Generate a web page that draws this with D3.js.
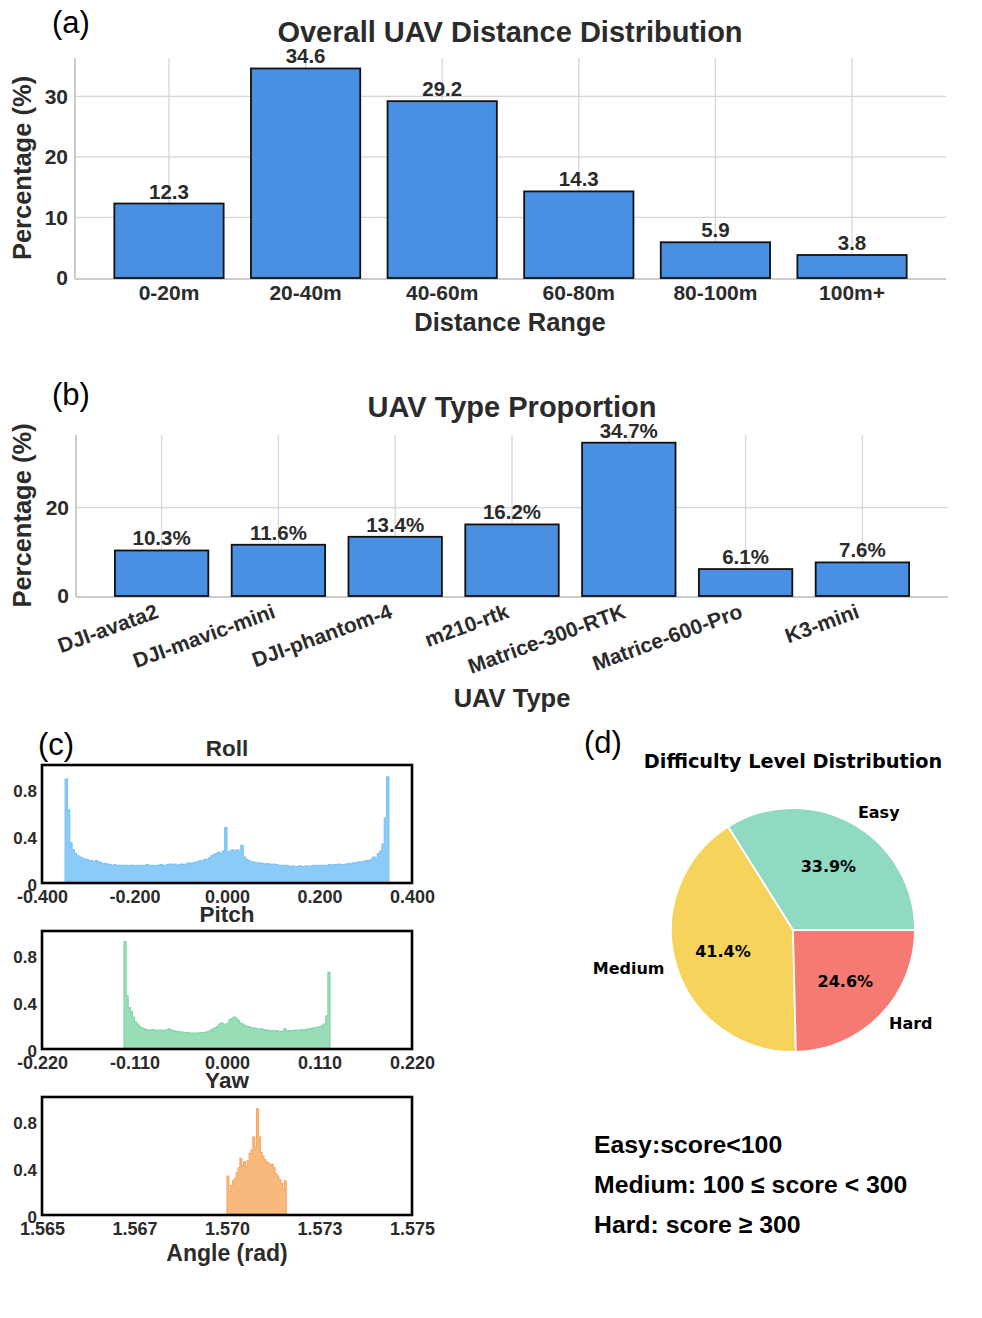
<!DOCTYPE html>
<html>
<head>
<meta charset="utf-8">
<script src="https://cdn.jsdelivr.net/npm/d3@7"></script>
<style>
  body { margin: 0; background: #fff; }
  svg text { font-family: "Liberation Sans", Arial, Helvetica, sans-serif; }
  svg text.dv { font-family: "DejaVu Sans", sans-serif; }
</style>
</head>
<body>
<svg id="fig" width="982" height="1318"></svg>
<script>
// ---- data ----
const distCategories = ['0-20m', '20-40m', '40-60m', '60-80m', '80-100m', '100m+'];
const distValues = [12.3, 34.6, 29.2, 14.3, 5.9, 3.8];
const distTicks = [0, 10, 20, 30];

const typeCategories = ['DJI-avata2', 'DJI-mavic-mini', 'DJI-phantom-4', 'm210-rtk',
  'Matrice-300-RTK', 'Matrice-600-Pro', 'K3-mini'];
const typeValues = [10.3, 11.6, 13.4, 16.2, 34.7, 6.1, 7.6];
const typeTicks = [0, 20];

// roll histogram: bins of 0.005 rad starting at -0.35
const rollStart = -0.35, rollStep = 0.005;
const rollDensity = [
  0.88, 0.62, 0.34, 0.28, 0.25, 0.23, 0.22, 0.21, 0.20, 0.20,
  0.19, 0.19, 0.18, 0.19, 0.18, 0.17, 0.16, 0.165, 0.16, 0.155,
  0.15, 0.155, 0.15, 0.15, 0.145, 0.15, 0.15, 0.145, 0.15, 0.15,
  0.145, 0.15, 0.15, 0.145, 0.15, 0.155, 0.15, 0.15, 0.145, 0.15,
  0.15, 0.155, 0.15, 0.15, 0.155, 0.16, 0.155, 0.16, 0.15, 0.155,
  0.16, 0.155, 0.16, 0.17, 0.165, 0.17, 0.175, 0.18, 0.19, 0.185,
  0.20, 0.20, 0.21, 0.23, 0.24, 0.25, 0.26, 0.25, 0.27, 0.47,
  0.26, 0.27, 0.28, 0.27, 0.28, 0.27, 0.32, 0.22, 0.20, 0.19,
  0.18, 0.18, 0.17, 0.17, 0.17, 0.165, 0.16, 0.165, 0.16, 0.155,
  0.16, 0.155, 0.15, 0.15, 0.145, 0.15, 0.145, 0.14, 0.145, 0.14,
  0.14, 0.145, 0.14, 0.14, 0.145, 0.14, 0.145, 0.15, 0.145, 0.15,
  0.15, 0.145, 0.15, 0.15, 0.155, 0.15, 0.155, 0.155, 0.16, 0.155,
  0.155, 0.16, 0.165, 0.16, 0.17, 0.17, 0.175, 0.18, 0.18, 0.185,
  0.19, 0.19, 0.20, 0.22, 0.21, 0.25, 0.27, 0.33, 0.55, 0.90
];
const rollTicks = [-0.4, -0.2, 0, 0.2, 0.4];
const rollTickLabels = ['-0.400', '-0.200', '0.000', '0.200', '0.400'];

// pitch histogram: bins of 0.0025 rad starting at -0.1225
const pitchStart = -0.1225, pitchStep = 0.0025;
const pitchDensity = [
  0.91, 0.45, 0.35, 0.32, 0.27, 0.23, 0.21, 0.19, 0.18, 0.17,
  0.165, 0.16, 0.16, 0.165, 0.16, 0.155, 0.16, 0.16, 0.155, 0.16,
  0.16, 0.17, 0.16, 0.155, 0.15, 0.15, 0.145, 0.145, 0.14, 0.14,
  0.14, 0.135, 0.135, 0.135, 0.135, 0.135, 0.14, 0.14, 0.14, 0.145,
  0.15, 0.16, 0.17, 0.18, 0.19, 0.21, 0.22, 0.21, 0.20, 0.22,
  0.25, 0.26, 0.27, 0.26, 0.24, 0.22, 0.21, 0.20, 0.19, 0.19,
  0.18, 0.18, 0.175, 0.17, 0.17, 0.17, 0.165, 0.16, 0.16, 0.155,
  0.155, 0.15, 0.155, 0.15, 0.15, 0.15, 0.17, 0.155, 0.155, 0.155,
  0.155, 0.16, 0.16, 0.16, 0.165, 0.16, 0.165, 0.17, 0.17, 0.175,
  0.18, 0.18, 0.185, 0.19, 0.20, 0.21, 0.28, 0.65
];
const pitchTicks = [-0.22, -0.11, 0, 0.11, 0.22];
const pitchTickLabels = ['-0.220', '-0.110', '0.000', '0.110', '0.220'];

// yaw histogram: bins of 0.00005 rad starting at 1.5700
const yawStart = 1.5700, yawStep = 0.00005;
const yawDensity = [
  0.33, 0.20, 0.25, 0.29, 0.31, 0.36, 0.40, 0.48, 0.42, 0.45,
  0.41, 0.46, 0.52, 0.55, 0.66, 0.58, 0.90, 0.66, 0.53, 0.50,
  0.47, 0.45, 0.44, 0.42, 0.43, 0.40, 0.35, 0.33, 0.30, 0.27,
  0.22, 0.29
];
const yawTicks = [1.565, 1.5675, 1.570, 1.5725, 1.575];
const yawTickLabels = ['1.565', '1.567', '1.570', '1.573', '1.575'];

const densityTicks = [0, 0.4, 0.8];
const densityTickLabels = ['0', '0.4', '0.8'];

const difficultyLabels = ['Easy', 'Medium', 'Hard'];
const difficultyValues = [33.9, 41.4, 24.6];
const difficultyColors = ['#90d9c3', '#f6d35a', '#f57a73'];

const scoreRules = ['Easy:score<100', 'Medium: 100 \u2264 score < 300', 'Hard: score \u2265 300'];

// ---- drawing ----
const svg = d3.select('#fig');
const INK = '#2b2b2b';

function panelLetter(txt, x, y) {
  svg.append('text').attr('x', x).attr('y', y)
    .style('font-size', '31px').style('fill', '#000').text(txt);
}

function barPanel(o) {
  const x = d3.scaleBand().domain(o.cats).range([o.left, o.right])
    .paddingInner(0.2).paddingOuter(o.outer);
  const y = d3.scaleLinear().domain([0, o.ymax]).range([o.bottom, o.top]);
  const g = svg.append('g');

  // grid
  g.selectAll('.hg').data(o.ticks.filter(t => t > 0)).enter().append('line')
    .attr('x1', o.left).attr('x2', o.right)
    .attr('y1', d => y(d)).attr('y2', d => y(d))
    .attr('stroke', '#d6d6d6').attr('stroke-width', 1.3);
  g.selectAll('.vg').data(o.cats).enter().append('line')
    .attr('x1', d => x(d) + x.bandwidth() / 2).attr('x2', d => x(d) + x.bandwidth() / 2)
    .attr('y1', o.top).attr('y2', o.bottom)
    .attr('stroke', '#d6d6d6').attr('stroke-width', 1.3);

  // spines
  g.append('line').attr('x1', o.left).attr('x2', o.left).attr('y1', o.top).attr('y2', o.bottom + 1)
    .attr('stroke', '#cccccc').attr('stroke-width', 2);
  g.append('line').attr('x1', o.left).attr('x2', o.right).attr('y1', o.bottom + 1).attr('y2', o.bottom + 1)
    .attr('stroke', '#cccccc').attr('stroke-width', 2);

  // bars
  g.selectAll('.bar').data(o.vals).enter().append('rect')
    .attr('x', (d, i) => x(o.cats[i]))
    .attr('y', d => y(d))
    .attr('width', x.bandwidth())
    .attr('height', d => y(0) - y(d))
    .attr('fill', '#4a90e2')
    .attr('stroke', '#111').attr('stroke-width', 1.8);

  // value labels
  g.selectAll('.vl').data(o.vals).enter().append('text')
    .attr('x', (d, i) => x(o.cats[i]) + x.bandwidth() / 2)
    .attr('y', d => y(d) - 5)
    .attr('text-anchor', 'middle')
    .style('font-size', '20.5px').style('font-weight', 'bold').style('fill', INK)
    .text(d => o.fmt(d));

  // y axis
  const ya = g.append('g').attr('transform', `translate(${o.left},0)`)
    .call(d3.axisLeft(y).tickValues(o.ticks).tickSize(0).tickPadding(7).tickFormat(d3.format('d')));
  ya.select('.domain').remove();
  ya.selectAll('text').style('font-size', '21px').style('font-weight', 'bold').style('fill', INK);

  // x axis
  const xa = g.append('g').attr('transform', `translate(0,${o.bottom})`)
    .call(d3.axisBottom(x).tickSize(0).tickPadding(o.rotate ? 0 : 7));
  xa.select('.domain').remove();
  const xt = xa.selectAll('text').style('font-size', o.tickSize).style('font-weight', 'bold').style('fill', INK);
  if (o.rotate) {
    xt.attr('text-anchor', 'end').attr('dy', '0.72em')
      .attr('transform', 'translate(-7,7) rotate(-20)');
  }

  // titles
  svg.append('text').attr('x', o.titleX).attr('y', o.titleY).attr('text-anchor', 'middle')
    .style('font-size', '29px').style('font-weight', 'bold').style('fill', INK).text(o.title);
  svg.append('text').attr('x', o.titleX).attr('y', o.xlabY).attr('text-anchor', 'middle')
    .style('font-size', '25.5px').style('font-weight', 'bold').style('fill', INK).text(o.xlabel);
  svg.append('text').attr('transform', `translate(31,${(o.top + o.bottom) / 2}) rotate(-90)`)
    .attr('text-anchor', 'middle')
    .style('font-size', '25.5px').style('font-weight', 'bold').style('fill', INK).text('Percentage (%)');
}

panelLetter('(a)', 52, 33);
barPanel({
  cats: distCategories, vals: distValues, ticks: distTicks,
  left: 75, right: 946, top: 58, bottom: 278, ymax: 36.33, outer: 0.288,
  fmt: d => d.toFixed(1), tickSize: '21px', rotate: false,
  title: 'Overall UAV Distance Distribution', titleX: 510, titleY: 42,
  xlabel: 'Distance Range', xlabY: 331
});

panelLetter('(b)', 52, 405);
barPanel({
  cats: typeCategories, vals: typeValues, ticks: typeTicks,
  left: 76, right: 948, top: 435, bottom: 596, ymax: 36.44, outer: 0.333,
  fmt: d => d.toFixed(1) + '%', tickSize: '21px', rotate: true,
  title: 'UAV Type Proportion', titleX: 512, titleY: 417,
  xlabel: 'UAV Type', xlabY: 707
});

// ---- panel (c): attitude histograms ----
panelLetter('(c)', 38, 755);

function histPanel(o) {
  const x = d3.scaleLinear().domain(o.domain).range([42, 412]);
  const y = d3.scaleLinear().domain([0, 1]).range([o.top + 118, o.top]);
  const g = svg.append('g');
  const pts = o.vals.map((v, i) => [o.start + i * o.step, v]);
  pts.push([o.start + o.vals.length * o.step, o.vals[o.vals.length - 1]]);

  g.append('path').datum(pts)
    .attr('d', d3.area().curve(d3.curveStepAfter).x(d => x(d[0])).y0(y(0)).y1(d => y(d[1])))
    .attr('fill', o.fill);
  const outline = [[pts[0][0], 0]].concat(pts, [[pts[pts.length - 1][0], 0]]);
  g.append('path').datum(outline)
    .attr('d', d3.line().curve(d3.curveStepAfter).x(d => x(d[0])).y(d => y(d[1])))
    .attr('fill', 'none').attr('stroke', o.stroke).attr('stroke-width', 1.2);

  g.append('rect').attr('x', 42).attr('y', o.top).attr('width', 370).attr('height', 118)
    .attr('fill', 'none').attr('stroke', '#000').attr('stroke-width', 2.6);

  const ya = g.append('g').attr('transform', 'translate(42,0)')
    .call(d3.axisLeft(y).tickValues(densityTicks).tickSize(0).tickPadding(5)
      .tickFormat((d, i) => densityTickLabels[i]));
  ya.select('.domain').remove();
  ya.selectAll('text').attr('dy', '0.45em')
    .style('font-size', '17px').style('font-weight', 'bold').style('fill', INK);

  const xa = g.append('g').attr('transform', `translate(0,${o.top + 118})`)
    .call(d3.axisBottom(x).tickValues(o.ticks).tickSize(0).tickPadding(7)
      .tickFormat((d, i) => o.labels[i]));
  xa.select('.domain').remove();
  xa.selectAll('text').style('font-size', '18px').style('font-weight', 'bold').style('fill', INK);

  svg.append('text').attr('x', 227).attr('y', o.top - 9).attr('text-anchor', 'middle')
    .style('font-size', '22.5px').style('font-weight', 'bold').style('fill', INK).text(o.title);
}

histPanel({ title: 'Roll', top: 765, domain: [-0.4, 0.4], ticks: rollTicks, labels: rollTickLabels,
  start: rollStart, step: rollStep, vals: rollDensity, fill: '#8bcbf8', stroke: '#7dc3f6' });
histPanel({ title: 'Pitch', top: 931, domain: [-0.22, 0.22], ticks: pitchTicks, labels: pitchTickLabels,
  start: pitchStart, step: pitchStep, vals: pitchDensity, fill: '#98ddb6', stroke: '#84d6a8' });
histPanel({ title: 'Yaw', top: 1097, domain: [1.565, 1.575], ticks: yawTicks, labels: yawTickLabels,
  start: yawStart, step: yawStep, vals: yawDensity, fill: '#f7b97c', stroke: '#f5aa66' });

svg.append('text').attr('x', 227).attr('y', 1261).attr('text-anchor', 'middle')
  .style('font-size', '23px').style('font-weight', 'bold').style('fill', INK).text('Angle (rad)');

// ---- panel (d): difficulty pie ----
panelLetter('(d)', 584, 753);
svg.append('text').attr('class', 'dv').attr('x', 793).attr('y', 768).attr('text-anchor', 'middle')
  .style('font-size', '19.3px').style('font-weight', 'bold').style('fill', '#000')
  .text('Difficulty Level Distribution');

const cx = 793, cy = 930, R = 122;
const pie = d3.pie().sort(null).value(d => d)
  .startAngle(Math.PI / 2).endAngle(Math.PI / 2 - 2 * Math.PI);
const arcs = pie(difficultyValues);
const arc = d3.arc().innerRadius(0).outerRadius(R);
const pg = svg.append('g').attr('transform', `translate(${cx},${cy})`);
pg.selectAll('.slice').data(arcs).enter().append('path')
  .attr('d', arc)
  .attr('fill', (d, i) => difficultyColors[i])
  .attr('stroke', '#fff').attr('stroke-width', 1.8);

const mid = d => (d.startAngle + d.endAngle) / 2;
pg.selectAll('.pct').data(arcs).enter().append('text').attr('class', 'dv')
  .attr('x', d => Math.sin(mid(d)) * R * 0.6)
  .attr('y', d => -Math.cos(mid(d)) * R * 0.6)
  .attr('dy', '0.35em').attr('text-anchor', 'middle')
  .style('font-size', '16px').style('font-weight', 'bold').style('fill', '#000')
  .text(d => d.value.toFixed(1) + '%');
pg.selectAll('.lab').data(arcs).enter().append('text').attr('class', 'dv')
  .attr('x', d => Math.sin(mid(d)) * R * 1.1)
  .attr('y', d => -Math.cos(mid(d)) * R * 1.1)
  .attr('dy', '0.35em')
  .attr('text-anchor', d => Math.sin(mid(d)) > 0 ? 'start' : 'end')
  .style('font-size', '16px').style('font-weight', 'bold').style('fill', '#000')
  .text((d, i) => difficultyLabels[i]);

// score rules
svg.selectAll('.rule').data(scoreRules).enter().append('text')
  .attr('x', 594).attr('y', (d, i) => 1153 + i * 40)
  .style('font-size', '24.8px').style('font-weight', 'bold').style('fill', '#000')
  .text(d => d);
</script>
</body>
</html>
